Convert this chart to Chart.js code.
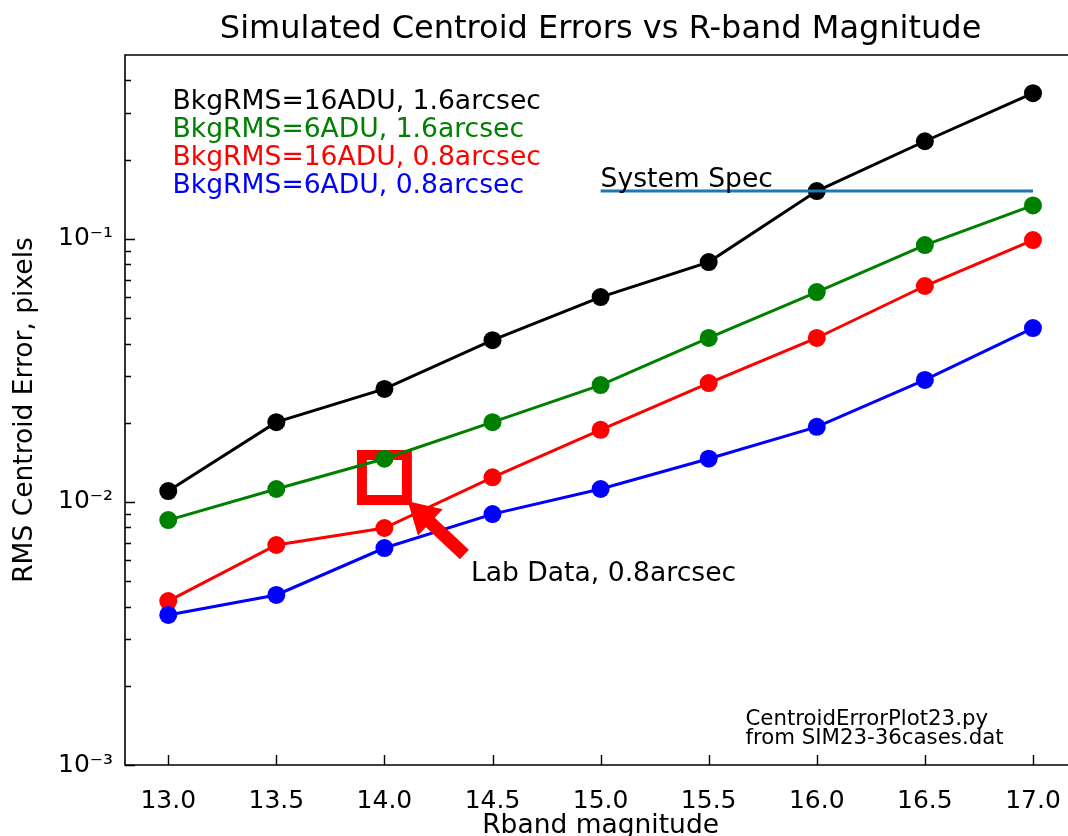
<!DOCTYPE html>
<html>
<head>
<meta charset="utf-8">
<title>Simulated Centroid Errors vs R-band Magnitude</title>
<script src="https://cdn.jsdelivr.net/npm/chart.js@4.4.1/dist/chart.umd.min.js"></script>
<style>
  html, body { margin: 0; padding: 0; background: #fff; overflow: hidden; }
  #wrap { position: relative; width: 1068px; height: 836px; overflow: hidden; }
  canvas { display: block; }
</style>
</head>
<body>
<div id="wrap"><canvas id="centroidChart" width="1118" height="850"></canvas></div>
<script>
// R-band magnitudes of the simulated cases
const magnitudes = [13.0, 13.5, 14.0, 14.5, 15.0, 15.5, 16.0, 16.5, 17.0];

// RMS centroid error (pixels) per case
const bkg16See16 = [0.0110, 0.0201, 0.0269, 0.0412, 0.0601, 0.0816, 0.152, 0.235, 0.358];
const bkg6See16  = [0.00853, 0.0112, 0.0146, 0.0201, 0.0278, 0.0420, 0.0628, 0.0947, 0.134];
const bkg16See08 = [0.00420, 0.00686, 0.00796, 0.0124, 0.0188, 0.0283, 0.0420, 0.0662, 0.0990];
const bkg6See08  = [0.00372, 0.00443, 0.00668, 0.00899, 0.0112, 0.0146, 0.0193, 0.0291, 0.0458];

const seriesLabels = ['BkgRMS=16ADU, 1.6arcsec', 'BkgRMS=6ADU, 1.6arcsec', 'BkgRMS=16ADU, 0.8arcsec', 'BkgRMS=6ADU, 0.8arcsec'];
const seriesColors = ['#000000', '#008000', '#ff0000', '#0000ff'];

// system spec line and lab measurement
const specMags = [15.0, 17.0];
const specLevel = [0.152, 0.152];
const labMag = [14.0];
const labError = [0.01238];

// axis ticks
const xTicks = [13.0, 13.5, 14.0, 14.5, 15.0, 15.5, 16.0, 16.5, 17.0];
const yMajorTicks = [0.001, 0.01, 0.1];
const yMinorTicks = [0.002, 0.003, 0.004, 0.005, 0.006, 0.007, 0.008, 0.009,
                     0.02, 0.03, 0.04, 0.05, 0.06, 0.07, 0.08, 0.09,
                     0.2, 0.3, 0.4];

// text annotations (data coordinates)
const legendAt = { x: 13.02, y: 0.311 };
const specTextAt = { x: 15.0, y: 0.157 };
const labTextAt = { x: 14.4, y: 0.005 };
const arrowTip = { x: 14.108, y: 0.01007 };
const arrowTail = { x: 14.37, y: 0.00631 };
const noteAt = { x: 15.67, y: 0.00142 };
const noteLines = ['CentroidErrorPlot23.py', 'from SIM23-36cases.dat'];

Chart.defaults.font.family = "'DejaVu Sans', sans-serif";
Chart.defaults.color = '#000';

const sup = { '-': '\u207b', '0': '\u2070', '1': '\u00b9', '2': '\u00b2', '3': '\u00b3' };
function powLabel(v) {
  const e = String(Math.round(Math.log10(v)));
  return '10' + e.split('').map(c => sup[c]).join('');
}

function points(xs, ys) {
  return xs.map((x, i) => ({ x: x, y: ys[i] }));
}

const allSeries = [bkg16See16, bkg6See16, bkg16See08, bkg6See08];

const datasets = allSeries.map((vals, i) => ({
  label: seriesLabels[i],
  data: points(magnitudes, vals),
  borderColor: seriesColors[i],
  backgroundColor: seriesColors[i],
  borderWidth: 3,
  pointRadius: 9,
  pointBorderWidth: 0,
  pointBackgroundColor: seriesColors[i],
  order: 4 - i,
  isSeries: true
}));

datasets.push({
  label: 'System Spec',
  data: points(specMags, specLevel),
  borderColor: '#1f77b4',
  borderWidth: 3,
  pointRadius: 0,
  order: 0
});

datasets.push({
  label: 'Lab Data',
  data: points(labMag, labError),
  showLine: false,
  pointStyle: 'rect',
  pointRadius: 31.8,
  pointBorderWidth: 10,
  pointBorderColor: '#ff0000',
  pointBackgroundColor: 'rgba(0,0,0,0)',
  order: 5
});

// inward tick marks, axes lines and text annotations
const decorations = {
  id: 'decorations',
  afterDatasetsDraw(chart) {
    const ctx = chart.ctx;
    const xs = chart.scales.x, ys = chart.scales.y;

    // arrow for the lab data
    const tx = xs.getPixelForValue(arrowTip.x), ty = ys.getPixelForValue(arrowTip.y);
    const bx = xs.getPixelForValue(arrowTail.x), by = ys.getPixelForValue(arrowTail.y);
    const len = Math.hypot(tx - bx, ty - by);
    const ux = (tx - bx) / len, uy = (ty - by) / len;
    const nx = -uy, ny = ux;
    const headLen = 31, headW = 18, shaftW = 6.5;
    const hx = tx - ux * headLen, hy = ty - uy * headLen;
    ctx.save();
    ctx.fillStyle = '#ff0000';
    ctx.beginPath();
    ctx.moveTo(bx + nx * shaftW, by + ny * shaftW);
    ctx.lineTo(hx + nx * shaftW, hy + ny * shaftW);
    ctx.lineTo(hx + nx * headW, hy + ny * headW);
    ctx.lineTo(tx, ty);
    ctx.lineTo(hx - nx * headW, hy - ny * headW);
    ctx.lineTo(hx - nx * shaftW, hy - ny * shaftW);
    ctx.lineTo(bx - nx * shaftW, by - ny * shaftW);
    ctx.closePath();
    ctx.fill();
    ctx.restore();
  },
  afterDraw(chart) {
    const ctx = chart.ctx;
    const xs = chart.scales.x, ys = chart.scales.y;
    const a = chart.chartArea;
    ctx.save();

    // left, top and bottom spines (the right one is cropped off in the original)
    ctx.strokeStyle = '#000';
    ctx.lineWidth = 1.6;
    ctx.beginPath();
    ctx.moveTo(chart.width, a.top);
    ctx.lineTo(a.left, a.top);
    ctx.lineTo(a.left, a.bottom);
    ctx.lineTo(chart.width, a.bottom);
    ctx.stroke();

    // ticks pointing inwards
    ctx.lineWidth = 1.4;
    ctx.beginPath();
    xTicks.forEach(v => {
      const px = Math.round(xs.getPixelForValue(v)) + 0.5;
      ctx.moveTo(px, a.bottom);
      ctx.lineTo(px, a.bottom - 10);
    });
    yMajorTicks.forEach(v => {
      const py = Math.round(ys.getPixelForValue(v)) + 0.5;
      ctx.moveTo(a.left, py);
      ctx.lineTo(a.left + 10, py);
    });
    yMinorTicks.forEach(v => {
      const py = Math.round(ys.getPixelForValue(v)) + 0.5;
      ctx.moveTo(a.left, py);
      ctx.lineTo(a.left + 6, py);
    });
    ctx.stroke();

    // coloured legend text
    ctx.textAlign = 'left';
    ctx.textBaseline = 'alphabetic';
    ctx.font = "26.6px 'DejaVu Sans'";
    const lx = xs.getPixelForValue(legendAt.x);
    const ly = ys.getPixelForValue(legendAt.y);
    chart.data.datasets.filter(d => d.isSeries).forEach((d, i) => {
      ctx.fillStyle = d.borderColor;
      ctx.fillText(d.label, lx, ly + i * 28);
    });

    ctx.fillStyle = '#000';
    ctx.fillText('System Spec', xs.getPixelForValue(specTextAt.x), ys.getPixelForValue(specTextAt.y));
    ctx.fillText('Lab Data, 0.8arcsec', xs.getPixelForValue(labTextAt.x), ys.getPixelForValue(labTextAt.y));

    ctx.font = "21.3px 'DejaVu Sans'";
    const nx = xs.getPixelForValue(noteAt.x), ny = ys.getPixelForValue(noteAt.y);
    noteLines.forEach((t, i) => ctx.fillText(t, nx, ny + i * 19.5));
    ctx.restore();
  }
};

new Chart(document.getElementById('centroidChart'), {
  type: 'line',
  data: { datasets: datasets },
  plugins: [decorations],
  options: {
    responsive: false,
    animation: false,
    devicePixelRatio: 1,
    layout: { padding: { left: 0, right: 14, top: 0, bottom: 0 } },
    plugins: {
      legend: { display: false },
      tooltip: { enabled: false },
      title: {
        display: true,
        fullSize: false,
        text: 'Simulated Centroid Errors vs R-band Magnitude',
        color: '#000',
        font: { size: 32, weight: 'normal', lineHeight: 1.2 },
        padding: { top: 10, bottom: 6.6 }
      }
    },
    scales: {
      x: {
        type: 'linear',
        min: 12.8,
        max: 17.2,
        grid: { display: false, drawTicks: false },
        border: { display: false },
        afterBuildTicks: s => { s.ticks = xTicks.map(v => ({ value: v })); },
        afterFit: s => { s.height = 85; },
        ticks: {
          padding: 21,
          font: { size: 25 },
          color: '#000',
          maxRotation: 0,
          callback: v => Number(v).toFixed(1)
        },
        title: {
          display: true,
          text: 'Rband magnitude',
          color: '#000',
          font: { size: 26.5, lineHeight: 1.2 },
          padding: { top: 0, bottom: 8 }
        }
      },
      y: {
        type: 'logarithmic',
        min: 0.001,
        max: 0.5,
        grid: { display: false, drawTicks: false },
        border: { display: false },
        afterBuildTicks: s => { s.ticks = yMajorTicks.map(v => ({ value: v })); },
        afterFit: s => { s.width = 125; },
        ticks: {
          padding: 12,
          font: { size: 25 },
          color: '#000',
          callback: v => powLabel(v)
        },
        title: {
          display: true,
          text: 'RMS Centroid Error, pixels',
          color: '#000',
          font: { size: 26.5, lineHeight: 1.2 },
          padding: { top: 9, bottom: 0 }
        }
      }
    }
  }
});
</script>
</body>
</html>
